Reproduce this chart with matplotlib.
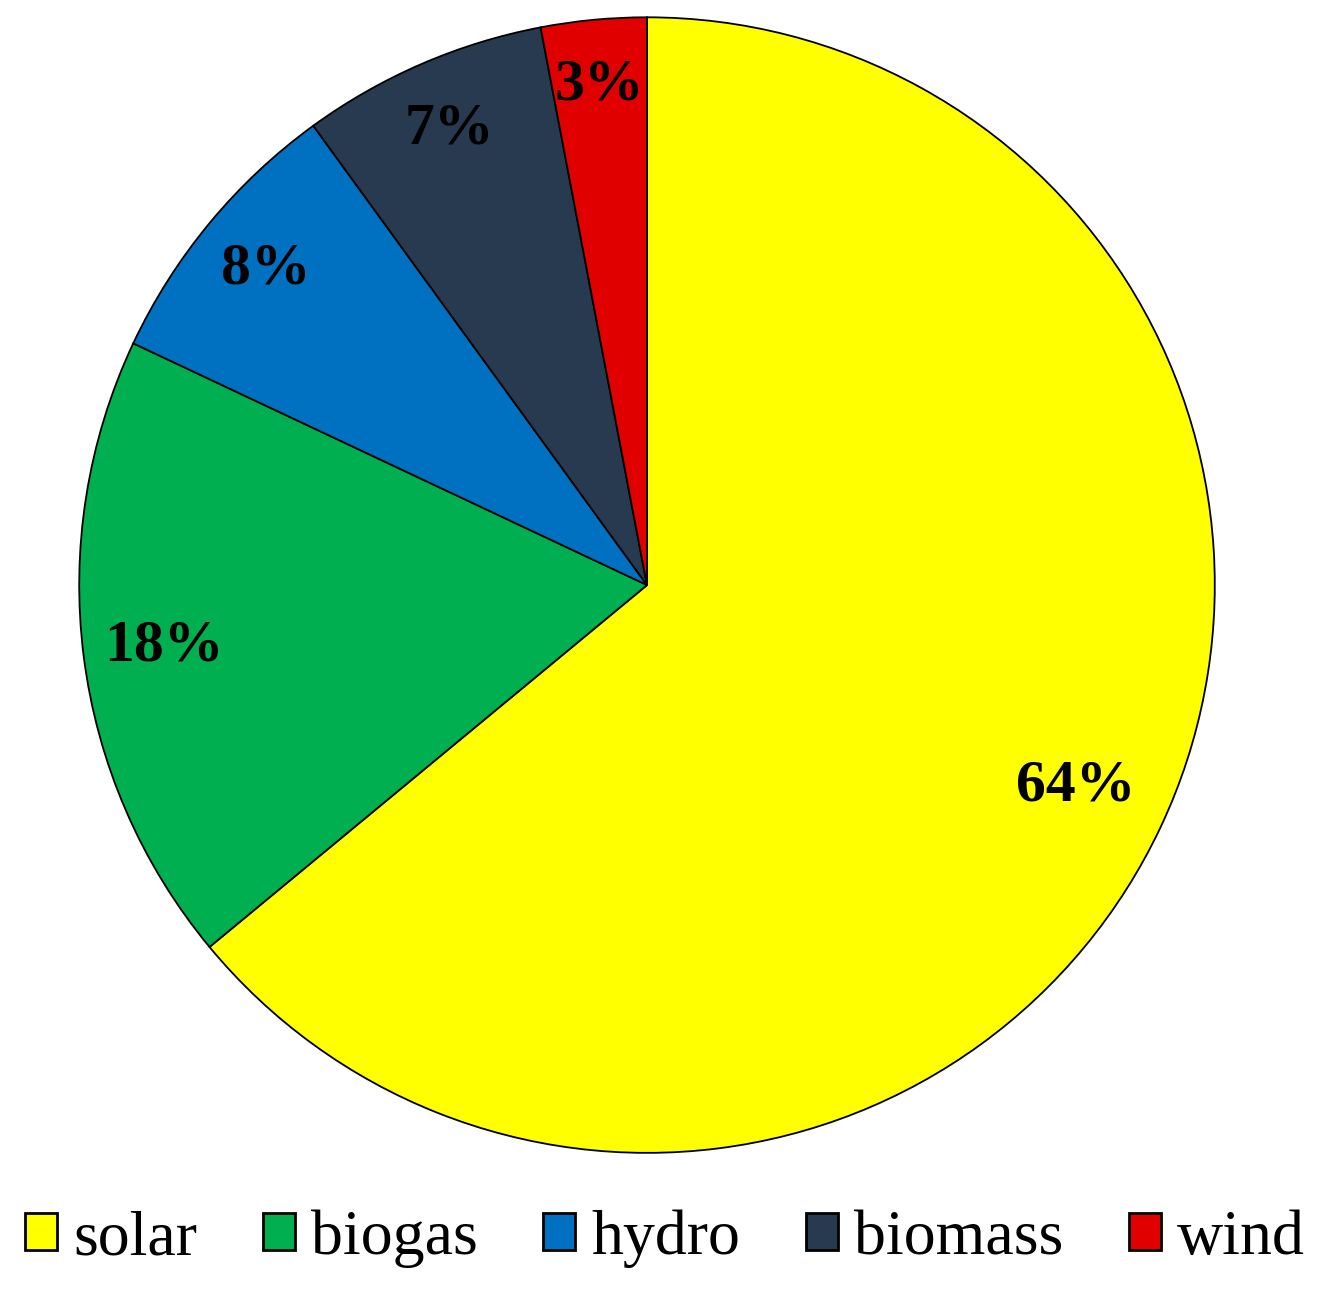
import matplotlib
matplotlib.use('Agg')
import matplotlib.pyplot as plt
import numpy as np

# energy share by source
sources = ['solar', 'biogas', 'hydro', 'biomass', 'wind']
shares = [64, 18, 8, 7, 3]
colours = ['#FFFF00', '#00B050', '#0070C0', '#283A4F', '#E00000']
# how far out each percentage label sits (fraction of radius)
label_dist = [0.835, 0.857, 0.872, 0.875, 0.884]

plt.rcParams['font.family'] = ['Liberation Serif', 'DejaVu Serif']

fig = plt.figure(figsize=(13.28, 12.93), dpi=100)
ax = fig.add_axes([0.0587, 0.1075, 0.857, 0.880])

wedges, texts, autotexts = ax.pie(shares, colors=colours, startangle=90, counterclock=False,
                                  autopct=lambda p: '%.0f%%' % p, pctdistance=0.86,
                                  wedgeprops=dict(edgecolor='black', linewidth=1.3),
                                  textprops=dict(fontsize=43, fontweight='bold', color='black'))
# move labels a bit, like the excel best fit placement
for w, t, d in zip(wedges, autotexts, label_dist):
    ang = np.deg2rad((w.theta1 + w.theta2) / 2.0)
    t.set_position((d * np.cos(ang), d * np.sin(ang)))

ax.set_xlim(-1.002, 1.002)
ax.set_ylim(-1.002, 1.002)
ax.set_aspect('equal')

leg = fig.legend(wedges, sources, loc='center', bbox_to_anchor=(0.5008, 0.0418), ncol=5,
                 frameon=False, fontsize=46, handlelength=0.5, handleheight=0.53,
                 handletextpad=0.25, columnspacing=1.03, borderaxespad=0)
for h in leg.legend_handles:
    h.set_linewidth(2)

fig.savefig('out.png', dpi=100)
